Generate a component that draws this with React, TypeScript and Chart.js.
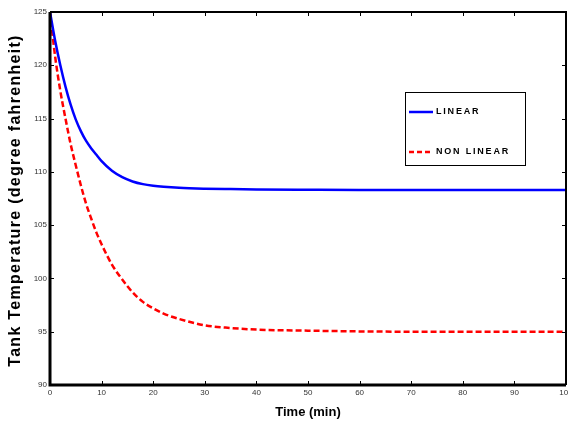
import React, { useEffect, useRef } from "react";
import { Chart, registerables } from "chart.js";

Chart.register(...registerables);

const times = [0, 1, 2, 3, 4, 5, 6, 7, 8, 9, 10, 12, 14, 16, 18, 20, 22, 25, 30, 35, 40, 50, 60, 70, 80, 90, 100];
const linearTemps = [125, 122.3, 120.0, 118.0, 116.3, 114.9, 113.8, 112.9, 112.2, 111.6, 111.0, 110.1, 109.5, 109.1, 108.85, 108.7, 108.6, 108.5, 108.42, 108.38, 108.35, 108.32, 108.3, 108.3, 108.3, 108.3, 108.3];
const nonLinearTemps = [125, 120.8, 117.6, 115.0, 112.6, 110.6, 108.7, 107.0, 105.6, 104.3, 103.2, 101.3, 99.9, 98.7, 97.8, 97.2, 96.7, 96.2, 95.6, 95.35, 95.2, 95.1, 95.03, 95.0, 95.0, 95.0, 95.0];
const seriesNames = ["LINEAR", "NON LINEAR"];
const xTitle = "Time (min)";
const yTitle = "Tank Temperature (degree fahrenheit)";

const FONT = "Arial, 'Liberation Sans', sans-serif";

const framePlugin = {
  id: "frame",
  afterDraw(chart: any) {
    const { ctx, chartArea: a, scales } = chart;
    ctx.save();
    ctx.strokeStyle = "#000";
    ctx.lineWidth = 1;
    const tl = 4;
    scales.x.ticks.forEach((t: any) => {
      const px = Math.round(scales.x.getPixelForValue(t.value)) + 0.5;
      if (t.value <= 0 || t.value >= 100) return;
      ctx.beginPath();
      ctx.moveTo(px, a.bottom);
      ctx.lineTo(px, a.bottom - tl);
      ctx.moveTo(px, a.top);
      ctx.lineTo(px, a.top + tl);
      ctx.stroke();
    });
    scales.y.ticks.forEach((t: any) => {
      const py = Math.round(scales.y.getPixelForValue(t.value)) + 0.5;
      if (t.value <= 90 || t.value >= 125) return;
      ctx.beginPath();
      ctx.moveTo(a.left, py);
      ctx.lineTo(a.left + tl, py);
      ctx.moveTo(a.right, py);
      ctx.lineTo(a.right - tl, py);
      ctx.stroke();
    });
    ctx.lineWidth = 2;
    ctx.beginPath();
    ctx.moveTo(a.left, a.top);
    ctx.lineTo(a.right, a.top);
    ctx.lineTo(a.right, a.bottom);
    ctx.stroke();
    ctx.lineWidth = 3;
    ctx.beginPath();
    ctx.moveTo(a.left, a.top);
    ctx.lineTo(a.left, a.bottom);
    ctx.lineTo(a.right, a.bottom);
    ctx.stroke();

    // y title
    ctx.save();
    ctx.translate(16, (a.top + a.bottom) / 2 + 2);
    ctx.rotate(-Math.PI / 2);
    ctx.fillStyle = "#000";
    ctx.font = "bold 16px " + FONT;
    (ctx as any).letterSpacing = "1.3px";
    ctx.textAlign = "center";
    ctx.textBaseline = "middle";
    ctx.fillText(yTitle, 0, 0);
    ctx.restore();

    // legend
    const lx = 405;
    const ly = 92;
    ctx.lineWidth = 1;
    ctx.strokeStyle = "#000";
    ctx.strokeRect(lx + 0.5, ly + 0.5, 120, 73);
    ctx.lineWidth = 2.5;
    ctx.strokeStyle = "#0000ff";
    ctx.beginPath();
    ctx.moveTo(lx + 4, ly + 20);
    ctx.lineTo(lx + 28, ly + 20);
    ctx.stroke();
    ctx.strokeStyle = "#ff0000";
    ctx.setLineDash([5, 3]);
    ctx.beginPath();
    ctx.moveTo(lx + 4, ly + 60);
    ctx.lineTo(lx + 28, ly + 60);
    ctx.stroke();
    ctx.setLineDash([]);
    ctx.fillStyle = "#000";
    ctx.font = "bold 9px " + FONT;
    (ctx as any).letterSpacing = "1.8px";
    ctx.textBaseline = "middle";
    ctx.textAlign = "left";
    ctx.fillText(seriesNames[0], lx + 31, ly + 20);
    ctx.fillText(seriesNames[1], lx + 31, ly + 60);
    ctx.restore();
  },
};

export default function App() {
  const ref = useRef<HTMLCanvasElement>(null);
  useEffect(() => {
    if (!ref.current) return;
    const chart = new Chart(ref.current, {
      type: "line",
      data: {
        datasets: [
          {
            label: seriesNames[0],
            data: times.map((t, i) => ({ x: t, y: linearTemps[i] })),
            borderColor: "#0000ff",
            borderWidth: 2.5,
            pointRadius: 0,
            cubicInterpolationMode: "monotone",
            fill: false,
          },
          {
            label: seriesNames[1],
            data: times.map((t, i) => ({ x: t, y: nonLinearTemps[i] })),
            borderColor: "#ff0000",
            borderWidth: 2.5,
            borderDash: [6, 3],
            pointRadius: 0,
            cubicInterpolationMode: "monotone",
            fill: false,
          },
        ],
      },
      options: {
        animation: false,
        responsive: false,
        layout: { padding: { top: 12, right: 2, left: 0, bottom: 0 }, autoPadding: false } as any,
        plugins: { legend: { display: false }, tooltip: { enabled: false } },
        scales: {
          x: {
            type: "linear",
            min: 0,
            max: 100,
            grid: { display: false, drawTicks: false },
            border: { display: false },
            ticks: { stepSize: 10, padding: 3, maxRotation: 0, color: "#333", font: { family: FONT, size: 8 } },
            title: { display: true, text: xTitle, color: "#000", padding: { top: 0, bottom: 8 }, font: { family: FONT, size: 13, weight: "bold" } },
            afterFit: (s: any) => { s.height = 43; s.paddingLeft = 0; s.paddingRight = 0; },
          },
          y: {
            min: 90,
            max: 125,
            grid: { display: false, drawTicks: false },
            border: { display: false },
            ticks: { stepSize: 5, padding: 3, color: "#333", font: { family: FONT, size: 8 } },
            title: { display: false },
            afterFit: (s: any) => { s.width = 50; s.paddingTop = 0; s.paddingBottom = 0; },
          },
        },
      },
      plugins: [framePlugin],
    } as any);
    return () => chart.destroy();
  }, []);
  return (
    <div style={{ position: "absolute", left: 0, top: 0, width: 568, height: 428, background: "#fff" }}>
      <canvas ref={ref} width={568} height={428} style={{ width: 568, height: 428, display: "block" }} />
    </div>
  );
}
